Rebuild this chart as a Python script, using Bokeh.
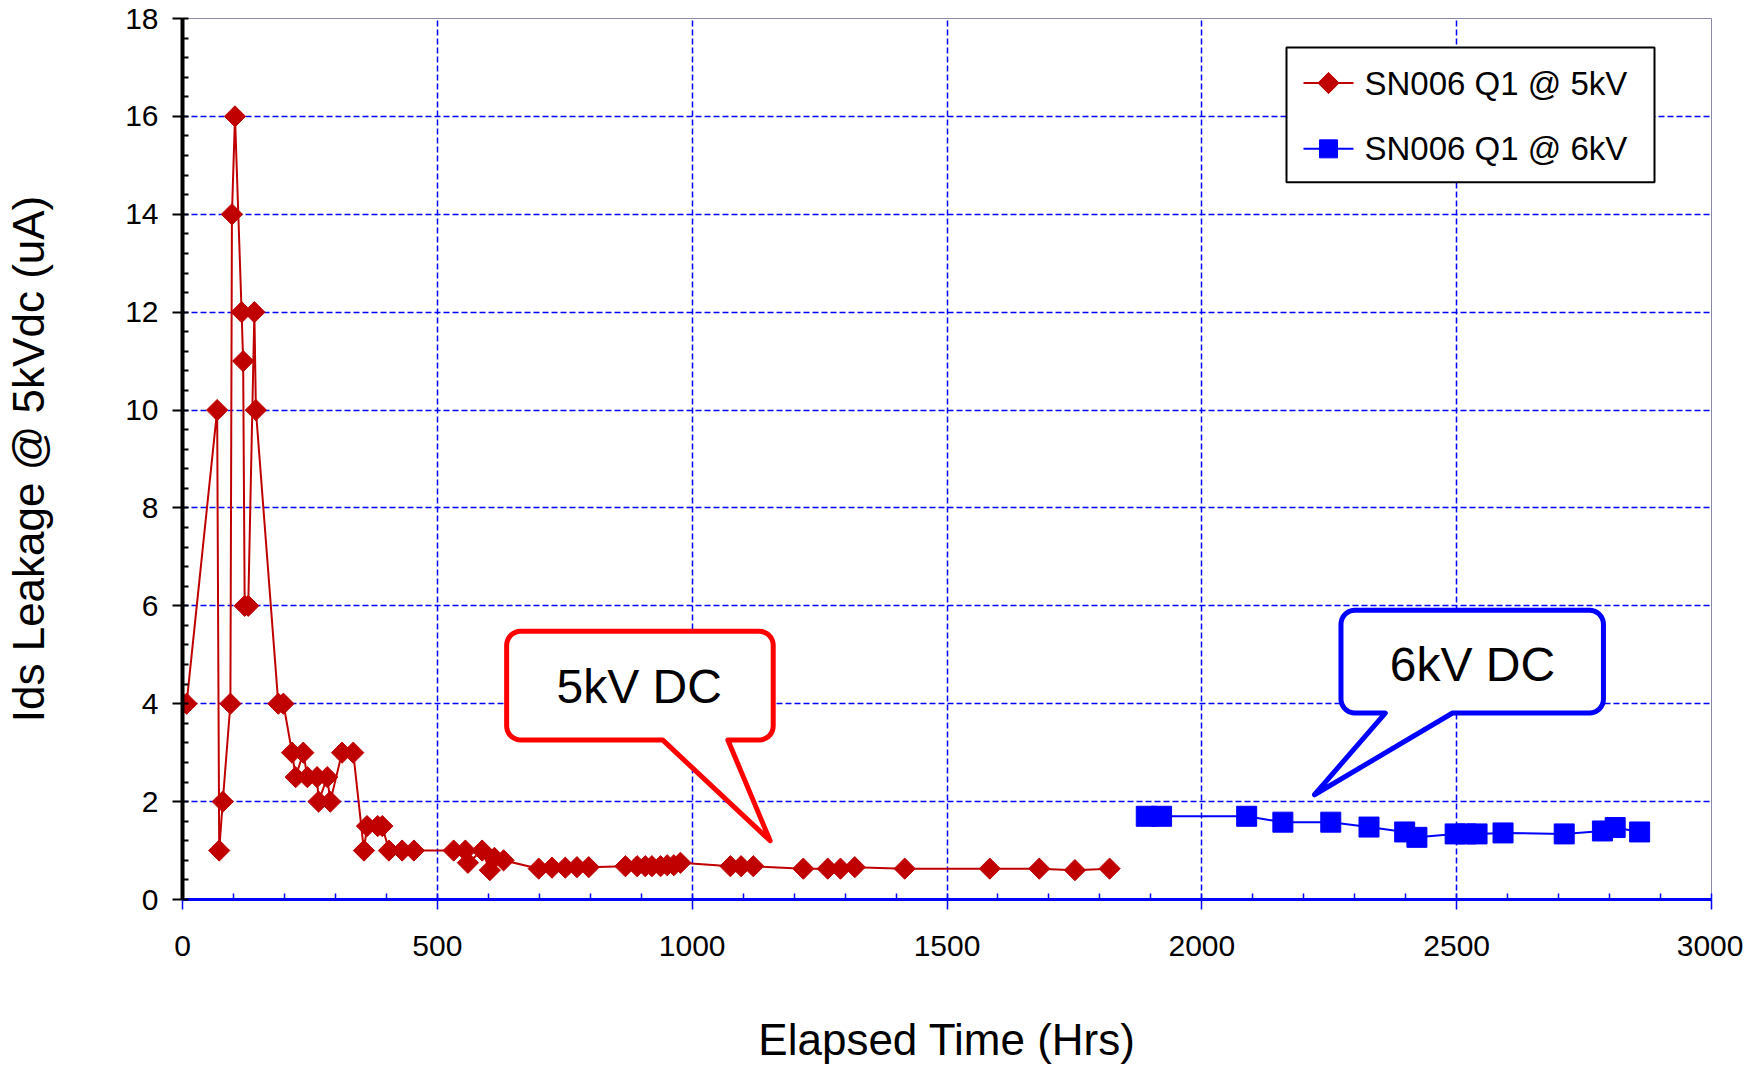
import numpy as np
from bokeh.plotting import figure
from bokeh.models import Range1d, FixedTicker
from bokeh.core.properties import value
from bokeh.embed import file_html
from bokeh.resources import INLINE

# ---------------- data ----------------
hrs_5kv = [0, 8, 68, 72, 79, 94, 97, 103, 116, 119, 122, 129, 141, 144, 188, 198,
           215, 222, 237, 245, 264, 267, 284, 290, 313, 335, 356, 362, 383, 392,
           405, 431, 454, 532, 555, 560, 588, 603, 612, 630,
           699, 725, 751, 774, 797, 869, 892, 908, 921, 938, 951, 964, 977,
           1075, 1096, 1120, 1218, 1266, 1291, 1319, 1417, 1584, 1681, 1751, 1819]
ids_5kv = [4, 4, 10, 1, 2, 4, 14, 16, 12, 11, 6, 6, 12, 10, 4, 4,
           3, 2.5, 3, 2.5, 2.5, 2, 2.5, 2, 3, 3, 1, 1.5, 1.5, 1.5,
           1, 1, 1, 1, 1, 0.75, 1, 0.6, 0.85, 0.8,
           0.63, 0.65, 0.65, 0.66, 0.66, 0.68, 0.68, 0.68, 0.68, 0.68, 0.7, 0.7, 0.75,
           0.68, 0.68, 0.68, 0.63, 0.63, 0.63, 0.66, 0.63, 0.63, 0.63, 0.6, 0.63]

hrs_6kv = [1891, 1921, 2088, 2159, 2253, 2328, 2398, 2422, 2497, 2518, 2540,
           2591, 2711, 2786, 2811, 2859]
ids_6kv = [1.7, 1.7, 1.7, 1.58, 1.58, 1.48, 1.38, 1.27, 1.34, 1.34, 1.34,
           1.36, 1.34, 1.40, 1.47, 1.38]

x_ticks = [0, 500, 1000, 1500, 2000, 2500, 3000]
y_ticks = [0, 2, 4, 6, 8, 10, 12, 14, 16, 18]
series_labels = ["SN006 Q1 @ 5kV", "SN006 Q1 @ 6kV"]
x_title = "Elapsed Time (Hrs)"
y_title = "Ids Leakage @ 5kVdc (uA)"

# callout annotations (data units)
callout_texts = ["5kV DC", "6kV DC"]
callout_box = [(636, 1159, 5.48, 3.26), (2273, 2788, 5.91, 3.81)]   # x0, x1, y_top, y_bottom
callout_base = [(942, 1070), (2360, 2492)]
callout_tip = [(1153, 1.2), (2221, 2.14)]
callout_text_pos = [(896, 4.35), (2531, 4.80)]
callout_colors = ["#FF0000", "#0000FF"]

# ---------------- layout ----------------
W, H = 1743, 1066
LEFT, RIGHT, TOP, BOTTOM = 182, 32, 18, 166
FONT = "Liberation Sans"
RED = "#C00000"
BLUE = "#0000FF"
DIAMOND_SIZE = 15
SQUARE_SIZE = 20

p = figure(width=W, height=H, output_backend="svg", toolbar_location=None,
           x_range=Range1d(0, 3000), y_range=Range1d(0, 18),
           min_border_left=LEFT, min_border_right=RIGHT,
           min_border_top=TOP, min_border_bottom=BOTTOM)
p.background_fill_color = "white"
p.border_fill_color = "white"
p.outline_line_color = "#8a8aa8"
p.outline_line_width = 1

frame_w = W - LEFT - RIGHT
frame_h = H - TOP - BOTTOM
sx = frame_w / 3000.0   # px per hour
sy = frame_h / 18.0     # px per uA

# grids
for g in (p.xgrid, p.ygrid):
    g.grid_line_color = BLUE
    g.grid_line_width = 1.5
    g.grid_line_dash = "6 3"
p.xgrid.ticker = FixedTicker(ticks=x_ticks)
p.ygrid.ticker = FixedTicker(ticks=y_ticks)

# axes
xa = p.xaxis[0]
xa.ticker = FixedTicker(ticks=x_ticks, minor_ticks=list(range(0, 3001, 100)))
xa.axis_line_color = BLUE
xa.axis_line_width = 3
xa.major_tick_line_color = BLUE
xa.major_tick_line_width = 1.5
xa.major_tick_in = 0
xa.major_tick_out = 10
xa.minor_tick_line_color = BLUE
xa.minor_tick_line_width = 1.5
xa.minor_tick_in = 6
xa.minor_tick_out = 0
xa.major_label_text_font = FONT
xa.major_label_text_font_size = "30px"
xa.major_label_text_color = "black"
xa.major_label_standoff = 26
xa.axis_label = x_title
xa.axis_label_text_font = FONT
xa.axis_label_text_font_size = "44px"
xa.axis_label_text_font_style = "normal"
xa.axis_label_text_color = "black"
xa.axis_label_standoff = 56

ya = p.yaxis[0]
ya.ticker = FixedTicker(ticks=y_ticks, minor_ticks=[round(v * 0.4, 1) for v in range(0, 46)])
ya.axis_line_color = "black"
ya.axis_line_width = 4
ya.major_tick_line_color = "black"
ya.major_tick_line_width = 2
ya.major_tick_in = 0
ya.major_tick_out = 10
ya.minor_tick_line_color = "black"
ya.minor_tick_line_width = 2
ya.minor_tick_in = 6
ya.minor_tick_out = 0
ya.major_label_text_font = FONT
ya.major_label_text_font_size = "30px"
ya.major_label_text_color = "black"
ya.major_label_standoff = 14
ya.axis_label = y_title
ya.axis_label_text_font = FONT
ya.axis_label_text_font_size = "44px"
ya.axis_label_text_font_style = "normal"
ya.axis_label_text_color = "black"
ya.axis_label_standoff = 69

# series
p.line(hrs_5kv, ids_5kv, line_color=RED, line_width=2)
p.scatter(hrs_5kv, ids_5kv, marker="square", angle=np.pi / 4, size=DIAMOND_SIZE,
          fill_color=RED, line_color=RED)
p.line(hrs_6kv, ids_6kv, line_color=BLUE, line_width=2)
p.scatter(hrs_6kv, ids_6kv, marker="square", size=SQUARE_SIZE,
          fill_color=BLUE, line_color=BLUE)

# callouts
R = 14.0


def callout_path(box, base, tip):
    x0, x1, yt, yb = box
    X0, X1, YT, YB = x0 * sx, x1 * sx, yt * sy, yb * sy
    BX0, BX1 = base[0] * sx, base[1] * sx
    TX, TY = tip[0] * sx, tip[1] * sy
    pts = []

    def arc(cx, cy, a0, a1):
        for a in np.linspace(np.radians(a0), np.radians(a1), 10):
            pts.append((cx + R * np.cos(a), cy + R * np.sin(a)))

    arc(X1 - R, YT - R, 90, 0)
    arc(X1 - R, YB + R, 0, -90)
    pts.append((BX1, YB))
    pts.append((TX, TY))
    pts.append((BX0, YB))
    arc(X0 + R, YB + R, -90, -180)
    arc(X0 + R, YT - R, 180, 90)
    return [q[0] / sx for q in pts], [q[1] / sy for q in pts]


for i in range(2):
    xs, ys = callout_path(callout_box[i], callout_base[i], callout_tip[i])
    p.patch(xs, ys, fill_color="white", line_color=callout_colors[i],
            line_width=5, line_join="round")
    p.text([callout_text_pos[i][0]], [callout_text_pos[i][1]], text=[callout_texts[i]],
           text_font=value(FONT), text_font_size="48px", text_color="black",
           text_align="center", text_baseline="middle")

# legend (drawn in frame pixel offsets converted to data units)
def px2x(dx):
    return dx / sx


def px2y(dy_from_top):
    return 18.0 - dy_from_top / sy


leg_left, leg_right, leg_top, leg_bottom = 1104, 1472, 29, 164   # px offsets inside the frame
row_centers = [64.6, 130.5]
sym_x0, sym_x1, sym_xc, label_x = 1121, 1171, 1146, 1182

p.quad(left=[px2x(leg_left)], right=[px2x(leg_right)], top=[px2y(leg_top)],
       bottom=[px2y(leg_bottom)], fill_color="white", line_color="black", line_width=2)
legend_colors = [RED, BLUE]
for i in range(2):
    yc = px2y(row_centers[i])
    p.segment(x0=[px2x(sym_x0)], y0=[yc], x1=[px2x(sym_x1)], y1=[yc],
              line_color=legend_colors[i], line_width=2)
    if i == 0:
        p.scatter([px2x(sym_xc)], [yc], marker="square", angle=np.pi / 4, size=DIAMOND_SIZE,
                  fill_color=RED, line_color=RED)
    else:
        p.scatter([px2x(sym_xc)], [yc], marker="square", size=SQUARE_SIZE - 2,
                  fill_color=BLUE, line_color=BLUE)
    p.text([px2x(label_x)], [yc], text=[series_labels[i]], text_font=value(FONT),
           text_font_size="33px", text_color="black", text_align="left",
           text_baseline="middle")

open("out.html", "w").write(file_html(p, INLINE))
